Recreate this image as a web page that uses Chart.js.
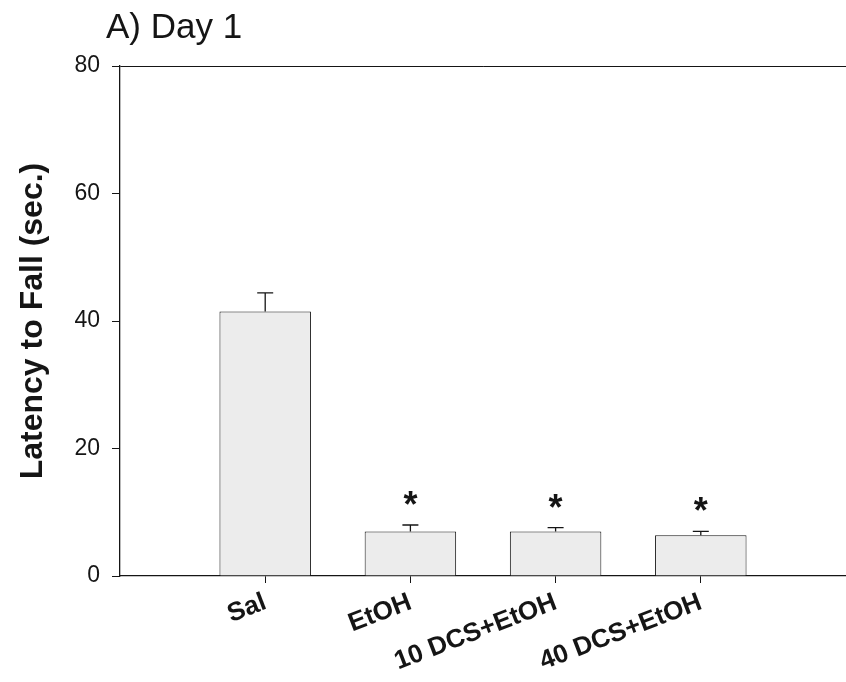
<!DOCTYPE html>
<html>
<head>
<meta charset="utf-8">
<script src="https://cdn.jsdelivr.net/npm/chart.js@4/dist/chart.umd.min.js"></script>
<style>
  html, body { margin: 0; padding: 0; background: #fff; overflow: hidden; }
</style>
</head>
<body>
<canvas id="chart" width="846" height="682"></canvas>
<script>
// data
const groups = ['Sal', 'EtOH', '10 DCS+EtOH', '40 DCS+EtOH'];
const means = [41.5, 7.0, 7.0, 6.4];
const sems = [2.9, 1.0, 0.6, 0.6];
const signif = [false, true, true, true];
const yTicks = [0, 20, 40, 60, 80];

const FONT = '"Liberation Sans", Arial, sans-serif';
const INK = '#151515';

// empty slots at both ends so the bars sit one step in from the axes
const labels = [''].concat(groups, ['']);
const values = [null].concat(means, [null]);

const extras = {
  id: 'extras',
  afterDatasetsDraw(chart) {
    const ctx = chart.ctx;
    const y = chart.scales.y;
    const meta = chart.getDatasetMeta(0);
    ctx.save();
    ctx.strokeStyle = INK;
    ctx.lineWidth = 1.3;
    groups.forEach((g, i) => {
      const bar = meta.data[i + 1];
      const base = y.getPixelForValue(means[i]);
      const top = y.getPixelForValue(means[i] + sems[i]);
      ctx.beginPath();
      ctx.moveTo(bar.x, base);
      ctx.lineTo(bar.x, top);
      ctx.moveTo(bar.x - 8, top);
      ctx.lineTo(bar.x + 8, top);
      ctx.stroke();
      if (signif[i]) {
        ctx.font = 'bold 36px ' + FONT;
        ctx.fillStyle = INK;
        ctx.textAlign = 'center';
        const m = ctx.measureText('*');
        const centre = top - 27;
        const baseline = centre + (m.actualBoundingBoxAscent - m.actualBoundingBoxDescent) / 2;
        ctx.fillText('*', bar.x, baseline);
      }
    });
    // panel title
    ctx.font = '35px ' + FONT;
    ctx.fillStyle = INK;
    ctx.textAlign = 'left';
    ctx.textBaseline = 'alphabetic';
    ctx.fillText('A) Day 1', 106, 38);
    ctx.restore();
  }
};

new Chart(document.getElementById('chart'), {
  type: 'bar',
  data: {
    labels: labels,
    datasets: [{
      data: values,
      backgroundColor: '#ececec',
      borderColor: INK,
      borderWidth: 1,
      categoryPercentage: 1,
      barPercentage: 0.63,
    }],
  },
  options: {
    responsive: false,
    animation: false,
    layout: { padding: { top: 66, left: 10, right: 0, bottom: 0 } },
    plugins: {
      legend: { display: false },
      tooltip: { enabled: false },
    },
    scales: {
      x: {
        offset: false,
        afterFit: (scale) => {
          scale.height = 106;
          scale.paddingLeft = 0;
          scale.paddingRight = 0;
        },
        border: { display: true, color: INK, width: 1.3 },
        grid: {
          offset: false,
          drawOnChartArea: false,
          tickLength: 7,
          tickColor: (c) => (c.index === 0 || c.index === labels.length - 1) ? 'rgba(0,0,0,0)' : INK,
        },
        ticks: {
          autoSkip: false,
          minRotation: 21,
          maxRotation: 21,
          padding: 4,
          color: INK,
          font: { family: FONT, size: 26, weight: 'bold' },
        },
      },
      y: {
        min: 0,
        max: 80,
        afterFit: (scale) => { scale.width = 110; },
        afterBuildTicks: (scale) => { scale.ticks = yTicks.map((v) => ({ value: v })); },
        border: { display: true, color: INK, width: 1.3 },
        grid: {
          color: (c) => (c.tick && c.tick.value === 80) ? INK : 'rgba(0,0,0,0)',
          tickColor: INK,
          tickLength: 8,
        },
        ticks: {
          padding: 12,
          color: INK,
          font: { family: FONT, size: 23 },
        },
        title: {
          display: true,
          text: 'Latency to Fall (sec.)',
          color: INK,
          font: { family: FONT, size: 32, weight: 'bold' },
          padding: { top: 4, bottom: 0 },
        },
      },
    },
  },
  plugins: [extras],
});
</script>
</body>
</html>
